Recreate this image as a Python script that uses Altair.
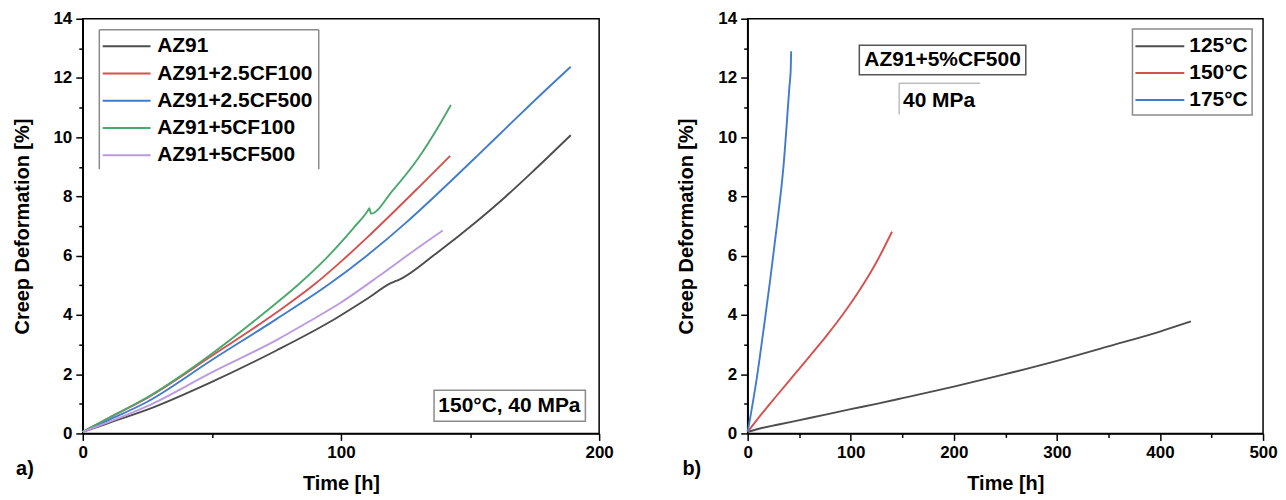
import altair as alt
import pandas as pd

FONT = "Liberation Sans"

# ---------------- Panel a) data (150°C, 40 MPa) ----------------
left_names = ["AZ91", "AZ91+2.5CF100", "AZ91+2.5CF500", "AZ91+5CF100", "AZ91+5CF500"]
left_colors = ["#4d4d4d", "#d6504e", "#3f7ccb", "#4aa86c", "#bb9ae2"]

az91_t = [0, 10, 25, 50, 75, 95.6, 110, 119.5, 120.5, 122, 137.5, 152.9, 163.2, 175, 189]
az91_v = [0.05, 0.35, 0.8, 1.74, 2.8, 3.76, 4.54, 5.08, 5.12, 5.17, 6.12, 7.18, 7.95, 8.9, 10.07]

cf25_100_t = [0, 10, 25, 50, 75, 90, 100, 110, 120, 130, 142.3]
cf25_100_v = [0.05, 0.52, 1.2, 2.62, 4.08, 5.05, 5.8, 6.6, 7.44, 8.3, 9.37]

cf25_500_t = [0, 10, 25, 50, 75, 95.6, 110, 125, 137.5, 152.9, 163.2, 175, 189]
cf25_500_v = [0.05, 0.45, 1.07, 2.48, 3.86, 5.05, 6.0, 7.1, 8.1, 9.38, 10.25, 11.24, 12.38]

cf5_100_t = [0, 10, 25, 50, 70, 83.4, 95, 105, 110.4, 111.0, 111.6, 120, 130, 138.7, 142.6]
cf5_100_v = [0.05, 0.52, 1.22, 2.69, 4.05, 5.02, 5.98, 6.95, 7.52, 7.6, 7.42, 8.2, 9.3, 10.5, 11.09]

cf5_500_t = [0, 10, 25, 50, 75, 87.3, 100, 115, 130, 139.4]
cf5_500_v = [0.05, 0.38, 0.92, 2.06, 3.15, 3.76, 4.42, 5.33, 6.28, 6.85]

# ---------------- Panel b) data (AZ91+5%CF500, 40 MPa) ----------------
right_names = ["125°C", "150°C", "175°C"]
right_colors = ["#4d4d4d", "#d6504e", "#3f7ccb"]

t125_t = [0, 10, 30, 60, 100, 125, 150, 200, 250, 300, 350, 400, 430]
t125_v = [0.05, 0.15, 0.3, 0.52, 0.82, 1.0, 1.19, 1.58, 2.0, 2.45, 2.94, 3.44, 3.78]

t150_t = [0, 12.2, 28.3, 44.4, 60.5, 76.6, 92.6, 108.8, 124.9, 140]
t150_v = [0.05, 0.6, 1.28, 1.95, 2.62, 3.3, 4.03, 4.85, 5.78, 6.81]

t175_t = [0, 9, 15.4, 21.9, 28.3, 34.7, 40.5, 41.8, 42.2]
t175_v = [0.05, 1.9, 3.5, 5.2, 7.0, 9.0, 11.7, 12.3, 12.9]

left_x_ticks = [0, 50, 100, 150, 200]
right_x_ticks = [0, 50, 100, 150, 200, 250, 300, 350, 400, 450, 500]
y_ticks = list(range(0, 15))

anno_left = "150°C, 40 MPa"
anno_right_1 = "AZ91+5%CF500"
anno_right_2 = "40 MPa"
x_title = "Time [h]"
y_title = "Creep Deformation [%]"


def frame(series):
    rows = []
    for name, ts, vs in series:
        for t, v in zip(ts, vs):
            rows.append({"series": name, "t": t, "v": v})
    return pd.DataFrame(rows)


df_left = frame([
    (left_names[0], az91_t, az91_v),
    (left_names[1], cf25_100_t, cf25_100_v),
    (left_names[2], cf25_500_t, cf25_500_v),
    (left_names[3], cf5_100_t, cf5_100_v),
    (left_names[4], cf5_500_t, cf5_500_v),
])
df_right = frame([
    (right_names[0], t125_t, t125_v),
    (right_names[1], t150_t, t150_v),
    (right_names[2], t175_t, t175_v),
])

H = 416
W1 = 518
W2 = 517
TXT = dict(font=FONT, fontWeight="bold", fontSize=21, color="black")


def y_enc():
    return alt.Y(
        "v:Q",
        scale=alt.Scale(domain=[0, 14], nice=False),
        axis=alt.Axis(
            values=y_ticks,
            labelExpr="datum.value % 2 === 0 ? datum.label : ''",
            tickSize={"condition": {"test": "datum.value % 2 === 0", "value": 7}, "value": 4},
            title=y_title,
        ),
    )


def x_enc(dom, ticks):
    return alt.X(
        "t:Q",
        scale=alt.Scale(domain=dom, nice=False, zero=False),
        axis=alt.Axis(
            values=ticks,
            labelExpr="datum.value % 100 === 0 ? datum.label : ''",
            tickSize={"condition": {"test": "datum.value % 100 === 0", "value": 7}, "value": 4},
            title=x_title,
        ),
    )


def rule(x1, x2, y1, y2, color, width=1.5):
    return alt.Chart(pd.DataFrame({"k": [0]})).mark_rule(color=color, strokeWidth=width).encode(
        x=alt.value(x1), x2=alt.value(x2), y=alt.value(y1), y2=alt.value(y2)
    )


def box(x1, x2, y1, y2, color, width=1.5):
    return alt.Chart(pd.DataFrame({"k": [0]})).mark_rect(
        fill="white", stroke=color, strokeWidth=width
    ).encode(x=alt.value(x1), x2=alt.value(x2), y=alt.value(y1), y2=alt.value(y2))


def label(text, x, y, align="center", size=21):
    style = dict(TXT)
    style["fontSize"] = size
    return alt.Chart(pd.DataFrame({"label": [text]})).mark_text(
        align=align, baseline="middle", **style
    ).encode(x=alt.value(x), y=alt.value(y), text="label:N")


def legend(names, colors, line_x1, line_x2, text_x, y0, dy, width=2):
    layers = []
    for i, (n, c) in enumerate(zip(names, colors)):
        yy = y0 + i * dy
        layers.append(rule(line_x1, line_x2, yy, yy, c, width))
        layers.append(label(n, text_x, yy, align="left"))
    return layers


# ---------------- Panel a ----------------
lines_left = alt.Chart(df_left).mark_line(strokeWidth=1.9, interpolate="monotone").encode(
    x=x_enc([0, 200], left_x_ticks),
    y=y_enc(),
    color=alt.Color("series:N", scale=alt.Scale(domain=left_names, range=left_colors), legend=None),
    detail="series:N",
)

left_layers = [lines_left]
left_layers += [
    rule(16.6, 16.6, 11, 151, "#8a8a8a"),
    rule(16.6, 236.7, 11, 11, "#8a8a8a"),
    rule(236.7, 236.7, 11, 151, "#8a8a8a"),
]
left_layers += legend(left_names, left_colors, 20, 68, 74.7, 27.7, 27.3)
left_layers += [box(352.4, 504.2, 372.7, 403.7, "#8a8a8a"), label(anno_left, 428, 388.5)]
left_layers += [label("a)", -58, H + 36, size=20)]

left = alt.layer(*left_layers).properties(width=W1, height=H)

# ---------------- Panel b ----------------
lines_right = alt.Chart(df_right).mark_line(strokeWidth=1.9, interpolate="monotone").encode(
    x=x_enc([0, 500], right_x_ticks),
    y=y_enc(),
    color=alt.Color("series:N", scale=alt.Scale(domain=right_names, range=right_colors), legend=None),
    detail="series:N",
)

right_layers = [lines_right]
right_layers += [box(386, 506, 10.4, 96.5, "#8a8a8a")]
right_layers += legend(right_names, right_colors, 389, 438, 443, 27.5, 27.0)
right_layers += [box(112, 279, 26.7, 56.3, "#555555"), label(anno_right_1, 195.5, 41.5)]
right_layers += [
    rule(152, 233, 64.7, 64.7, "#bdbdbd"),
    rule(152, 152, 64.7, 96, "#bdbdbd"),
    label(anno_right_2, 192, 82.3),
]
right_layers += [label("b)", -56, H + 36, size=20)]

right = alt.layer(*right_layers).properties(width=W2, height=H)

chart = (
    alt.hconcat(left, right, spacing=62, padding={"left": 3, "top": 0, "right": 0, "bottom": 0})
    .resolve_scale(color="independent")
    .configure_view(stroke="black", strokeWidth=1.5)
    .configure_axis(
        domainColor="black",
        domainWidth=1.5,
        tickColor="black",
        tickWidth=1.5,
        labelFont=FONT,
        labelFontSize=17,
        labelFontWeight="bold",
        labelColor="black",
        labelPadding=4,
        labelFlush=False,
        labelOverlap=False,
        titleFont=FONT,
        titleFontSize=20,
        titleFontWeight="bold",
        titleColor="black",
        grid=False,
    )
    .configure_axisY(titlePadding=21)
    .configure_axisX(titlePadding=13)
)

chart.save("out.html", embed_options={"renderer": "svg", "actions": False})
